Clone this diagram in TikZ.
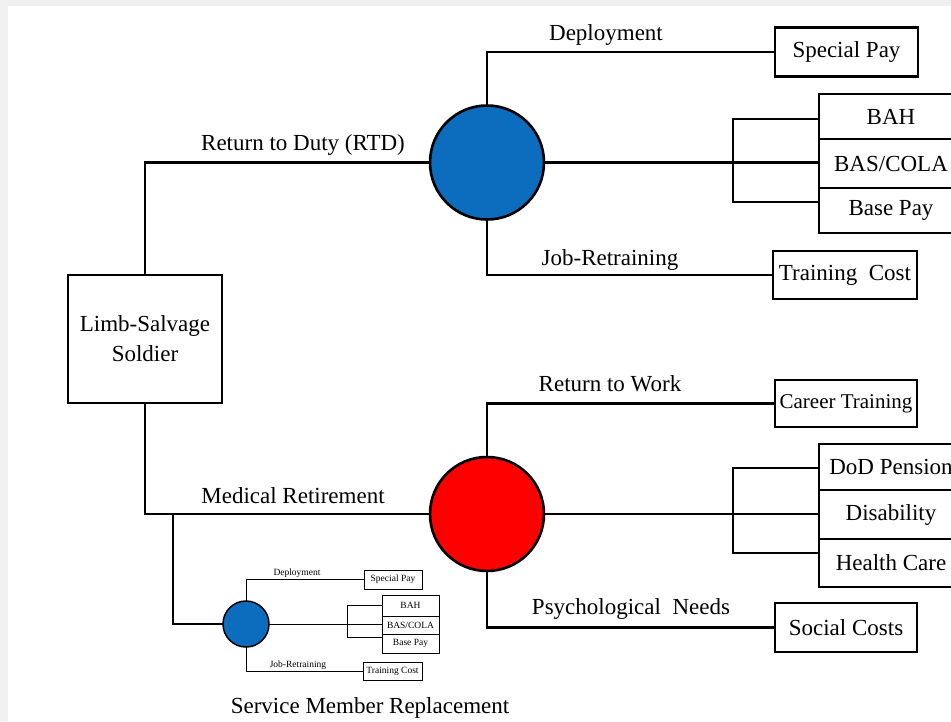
\documentclass[tikz,border=0pt]{standalone}
\usepackage{fontspec}
\setmainfont{Liberation Serif}
\definecolor{nodeblue}{RGB}{12,108,190}
\definecolor{nodered}{RGB}{255,0,0}
\begin{document}
\begin{tikzpicture}[x=1pt,y=-1pt,
  ln/.style={line width=2.6pt},
  box/.style={draw,line width=2.6pt,inner sep=0pt,outer sep=0pt,font=\fontsize{23}{26}\selectfont},
  lbl/.style={inner sep=0pt,anchor=base,font=\fontsize{23}{26}\selectfont},
  bigc/.style={circle,draw,line width=2.6pt,minimum size=114pt,inner sep=0pt,outer sep=0pt},
  sln/.style={line width=1pt},
  sbox/.style={draw,line width=1pt,inner sep=0pt,outer sep=0pt,font=\fontsize{9.5}{11}\selectfont},
  slbl/.style={inner sep=0pt,anchor=base,font=\fontsize{9.5}{11}\selectfont},
]
\useasboundingbox (0,0) rectangle (951,721);
\fill[gray!12] (0,0) rectangle (951,721);
\fill[white] (8,6) rectangle (951,721);
\begin{scope}
\clip (0,0) rectangle (951,721);
% root
\node[box,minimum width=154pt,minimum height=128pt,align=center,font=\fontsize{23}{30}\selectfont] (limb) at (145,339) {Limb-Salvage\\Soldier};
% circles
\node[bigc,fill=nodeblue] (blue) at (487,162.5) {};
\node[bigc,fill=nodered] (red) at (487,514) {};
% RTD leaves
\node[box,minimum width=143pt,minimum height=49pt] (sp) at (846.5,52) {Special Pay};
\node[box,minimum width=144pt,minimum height=45pt] (bah) at (891,116.5) {BAH};
\node[box,minimum width=144pt,minimum height=49pt] (bas) at (891,163.5) {BAS/COLA};
\node[box,minimum width=144pt,minimum height=45pt] (base) at (891,210.5) {Base Pay};
\node[box,minimum width=144pt,minimum height=48pt] (tc) at (845,275) {Training\ \ Cost};
% MR leaves
\node[box,minimum width=142pt,minimum height=47pt,font=\fontsize{21}{24}\selectfont] (ct) at (846,403.5) {Career Training};
\node[box,minimum width=144pt,minimum height=46pt] (dod) at (891,467) {DoD Pension};
\node[box,minimum width=144pt,minimum height=49pt] (dis) at (891,514.5) {Disability};
\node[box,minimum width=144pt,minimum height=48pt] (hc) at (891,563) {Health Care};
\node[box,minimum width=142pt,minimum height=49pt] (sc) at (846,627.5) {Social Costs};
% bracket coordinates
\coordinate (bk1) at (733,162.5);
\coordinate (bk1t) at (733,119);
\coordinate (bk1b) at (733,202);
\coordinate (bk2) at (733,514);
\coordinate (bk2t) at (733,468);
\coordinate (bk2b) at (733,553);
\coordinate (mrj) at (173,514);
% main connectors
\draw[ln] (limb.north) |- (blue.west);
\draw[ln] (limb.south) |- (red.west);
\draw[ln] (blue.north) |- (sp.west);
\draw[ln] (blue.south) |- (tc.west);
\draw[ln] (blue.east) -- (bk1);
\draw[ln] (bk1t -| bah.west) -- (bk1t) -- (bk1b) -- (bk1b -| base.west);
\draw[ln] (bk1) -- (bk1 -| bas.west);
\draw[ln] (red.north) |- (ct.west);
\draw[ln] (red.south) |- (sc.west);
\draw[ln] (red.east) -- (bk2);
\draw[ln] (bk2t -| dod.west) -- (bk2t) -- (bk2b) -- (bk2b -| hc.west);
\draw[ln] (bk2) -- (bk2 -| dis.west);
% labels
\node[lbl] (l1) at (303,150) {Return to Duty (RTD)};
\node[lbl] (l2) at (606,40) {Deployment};
\node[lbl] (l3) at (610,265) {Job-Retraining};
\node[lbl] (l4) at (610,391) {Return to Work};
\node[lbl] (l5) at (293,503) {Medical Retirement};
\node[lbl] (l6) at (631,614) {Psychological\ \ Needs};
\node[lbl] (l7) at (370,713) {Service Member Replacement};
% inset
\node[circle,draw,line width=1.5pt,fill=nodeblue,minimum size=46pt,inner sep=0pt,outer sep=0pt] (sm) at (246,624) {};
\draw[ln] (mrj) |- (sm.west);
\node[sbox,minimum width=58pt,minimum height=19pt] (isp) at (393,579.5) {Special Pay};
\node[sbox,minimum width=57pt,minimum height=21pt] (ibah) at (410.5,605.5) {BAH};
\node[sbox,minimum width=57pt,minimum height=18pt] (ibas) at (410.5,625) {BAS/COLA};
\node[sbox,minimum width=57pt,minimum height=19pt] (ibase) at (410.5,643.5) {Base Pay};
\node[sbox,minimum width=59pt,minimum height=18pt] (itc) at (392.5,671) {Training Cost};
\coordinate (ibk) at (347,624);
\coordinate (ibkt) at (347,605);
\coordinate (ibkb) at (347,637);
\draw[sln] (sm.north) |- (isp.west);
\draw[sln] (sm.south) |- (itc.west);
\draw[sln] (sm.east) -- (ibk);
\draw[sln] (ibkt -| ibah.west) -- (ibkt) -- (ibkb) -- (ibkb -| ibase.west);
\draw[sln] (ibk) -- (ibk -| ibas.west);
\node[slbl] (il1) at (297,575) {Deployment};
\node[slbl] (il2) at (298,667) {Job-Retraining};
\end{scope}
\end{tikzpicture}
\end{document}
